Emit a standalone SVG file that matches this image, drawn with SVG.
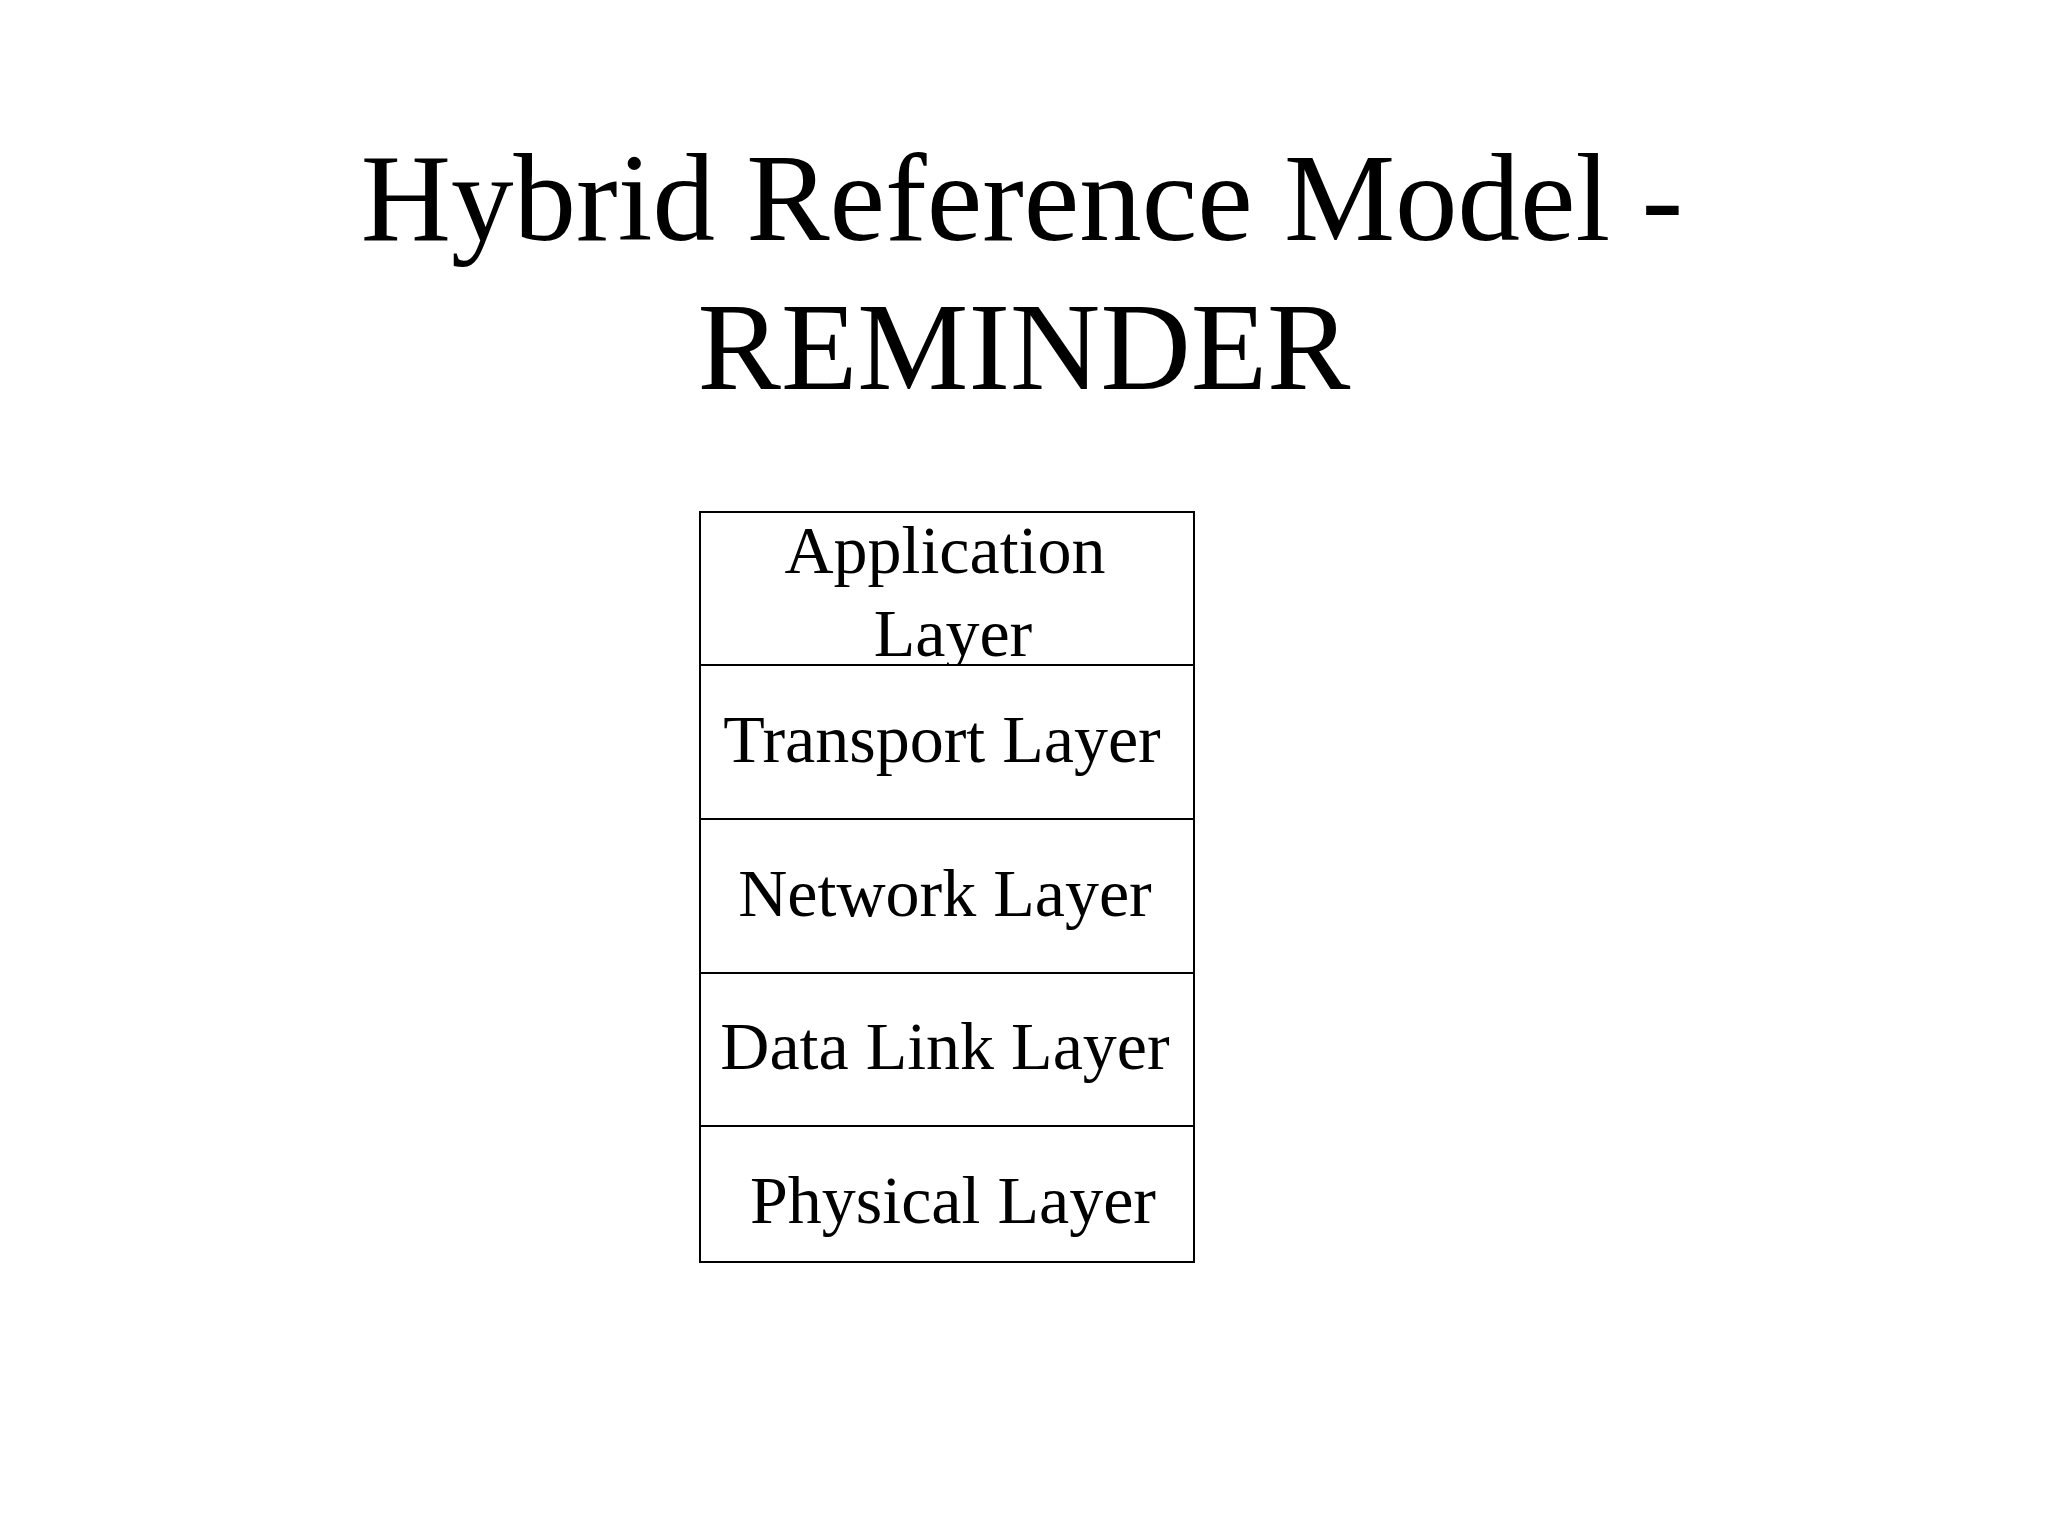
<svg xmlns="http://www.w3.org/2000/svg" width="2048" height="1536" viewBox="0 0 2048 1536">
<style>
text { font-family: "Liberation Serif", "Times New Roman", serif; fill: #000; text-anchor: middle; }
.title { font-size: 125px; }
.lbl { font-size: 68px; }
.box { fill: #fff; stroke: #000; stroke-width: 2; }
</style>
<rect width="2048" height="1536" fill="#fff"/>
<g id="title">
<text class="title" x="1022" y="240">Hybrid Reference Model -</text>
<text class="title" x="1024" y="389">REMINDER</text>
</g>
<g id="application">
<rect class="box" x="700" y="512" width="494" height="153"/>
<text class="lbl" x="945" y="573">Application</text>
<text class="lbl" x="953" y="656">Layer</text>
</g>
<g id="transport">
<rect class="box" x="700" y="665" width="494" height="154"/>
<text class="lbl" x="942" y="762">Transport Layer</text>
</g>
<g id="network">
<rect class="box" x="700" y="819" width="494" height="154"/>
<text class="lbl" x="945" y="916">Network Layer</text>
</g>
<g id="datalink">
<rect class="box" x="700" y="973" width="494" height="153"/>
<text class="lbl" x="945" y="1069">Data Link Layer</text>
</g>
<g id="physical">
<rect class="box" x="700" y="1126" width="494" height="136"/>
<text class="lbl" x="953" y="1223">Physical Layer</text>
</g>
<g id="connectors"></g>
</svg>
